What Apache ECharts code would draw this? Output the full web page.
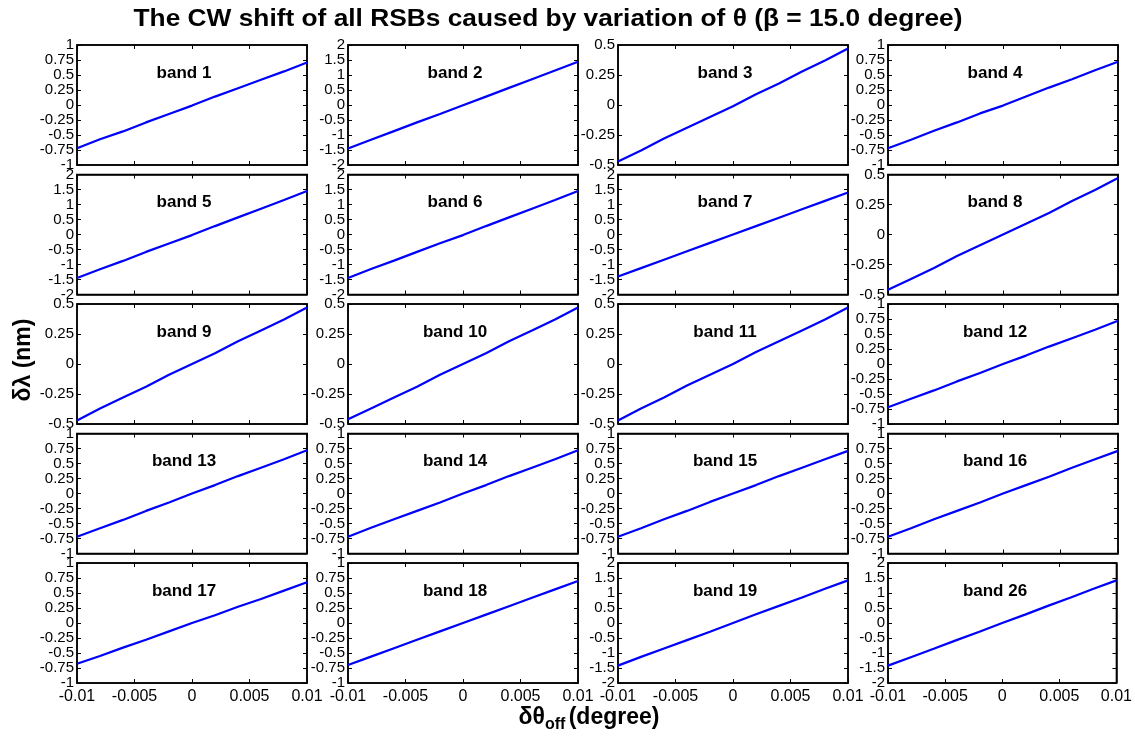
<!DOCTYPE html>
<html><head><meta charset="utf-8">
<script src="https://cdn.jsdelivr.net/npm/echarts@6/dist/echarts.min.js"></script>
<style>html,body{margin:0;padding:0;background:#fff}#c{width:1135px;height:740px}</style>
</head><body><div id="c"></div>
<script>
const xValues = [-0.01,-0.008,-0.006,-0.004,-0.002,0,0.002,0.004,0.006,0.008,0.01];
const xTicks = [-0.01,-0.005,0,0.005,0.01];
const bandNames = ['band 1','band 2','band 3','band 4','band 5','band 6','band 7','band 8','band 9','band 10','band 11','band 12','band 13','band 14','band 15','band 16','band 17','band 18','band 19','band 26'];
const yLimits = [1,2,0.5,1, 2,2,2,0.5, 0.5,0.5,0.5,1, 1,1,1,1, 1,1,2,2];
const yIntervals = [0.25,0.5,0.25,0.25, 0.5,0.5,0.5,0.25, 0.25,0.25,0.25,0.25, 0.25,0.25,0.25,0.25, 0.25,0.25,0.5,0.5];
const band1  = [-0.72,-0.57,-0.44,-0.29,-0.15,-0.01,0.14,0.28,0.42,0.56,0.71];
const band2  = [-1.45,-1.16,-0.87,-0.58,-0.30,-0.01,0.28,0.57,0.86,1.15,1.44];
const band3  = [-0.47,-0.38,-0.28,-0.19,-0.10,-0.01,0.09,0.18,0.28,0.37,0.47];
const band4  = [-0.72,-0.58,-0.43,-0.29,-0.14,-0.01,0.14,0.29,0.43,0.58,0.72];
const band5  = [-1.45,-1.16,-0.88,-0.58,-0.30,-0.02,0.28,0.57,0.86,1.15,1.45];
const band6  = [-1.45,-1.15,-0.87,-0.58,-0.29,-0.02,0.28,0.57,0.86,1.15,1.45];
const band7  = [-1.40,-1.12,-0.84,-0.56,-0.28,0.00,0.28,0.56,0.84,1.12,1.40];
const band8  = [-0.46,-0.37,-0.28,-0.18,-0.09,0.00,0.09,0.18,0.28,0.37,0.47];
const band9  = [-0.47,-0.37,-0.28,-0.19,-0.09,0.00,0.09,0.19,0.28,0.37,0.47];
const band10 = [-0.46,-0.37,-0.28,-0.19,-0.09,0.00,0.09,0.19,0.28,0.37,0.47];
const band11 = [-0.47,-0.37,-0.28,-0.18,-0.09,0.00,0.10,0.19,0.28,0.37,0.47];
const band12 = [-0.72,-0.58,-0.44,-0.29,-0.15,0.00,0.14,0.29,0.43,0.57,0.72];
const band13 = [-0.72,-0.58,-0.44,-0.29,-0.15,0.00,0.14,0.29,0.43,0.57,0.72];
const band14 = [-0.72,-0.57,-0.43,-0.29,-0.15,0.00,0.14,0.29,0.43,0.57,0.72];
const band15 = [-0.72,-0.58,-0.43,-0.29,-0.14,0.00,0.14,0.29,0.43,0.57,0.71];
const band16 = [-0.72,-0.58,-0.43,-0.29,-0.15,0.00,0.14,0.28,0.43,0.57,0.71];
const band17 = [-0.68,-0.55,-0.41,-0.28,-0.14,0.00,0.13,0.27,0.40,0.54,0.68];
const band18 = [-0.70,-0.56,-0.42,-0.28,-0.14,0.00,0.14,0.28,0.42,0.56,0.70];
const band19 = [-1.42,-1.13,-0.85,-0.57,-0.29,0.00,0.29,0.57,0.85,1.14,1.42];
const band26 = [-1.42,-1.14,-0.86,-0.57,-0.29,0.00,0.28,0.57,0.85,1.14,1.42];
const allBands = [band1,band2,band3,band4,band5,band6,band7,band8,band9,band10,band11,band12,band13,band14,band15,band16,band17,band18,band19,band26];
const titleText = 'The CW shift of all RSBs caused by variation of \u03b8 (\u03b2 = 15.0 degree)';

const colLefts = [77,348,618,888];
const rowTops = [45,174.5,304,433.5,563];
const gw = 230, gh = 120;
const font = '"Liberation Sans", Arial, sans-serif';

function measure(text, f){ const cv=document.createElement('canvas').getContext('2d'); cv.font=f; return cv.measureText(text).width; }

const grids=[], xAxes=[], yAxes=[], series=[], graphics=[];
allBands.forEach((vals,i)=>{
  const r = Math.floor(i/4), c = i%4;
  grids.push({left:colLefts[c], top:rowTops[r], width:gw, height:gh, show:true, borderColor:'#000', borderWidth:1.5, backgroundColor:'#fff'});
  const bottomRow = r===4;
  const tickStyle = {show:true, inside:true, length:4, lineStyle:{color:'#000',width:1}};
  const lineStyle = {show:true, onZero:false, lineStyle:{color:'#000',width:1.5}};
  xAxes.push({gridIndex:i, type:'value', min:-0.01, max:0.01, interval:0.005, position:'bottom',
    axisLine:lineStyle, axisTick:tickStyle, splitLine:{show:false},
    axisLabel:{show:bottomRow, color:'#000', fontSize:16, fontFamily:font, margin:6, showMinLabel:true, showMaxLabel:true,
      formatter:v=>String(Math.round(v*1000)/1000)}});
  xAxes.push({gridIndex:i, type:'value', min:-0.01, max:0.01, interval:0.005, position:'top',
    axisLine:lineStyle, axisTick:tickStyle, splitLine:{show:false}, axisLabel:{show:false}});
  const L = yLimits[i];
  yAxes.push({gridIndex:i, type:'value', min:-L, max:L, interval:yIntervals[i], position:'left',
    axisLine:lineStyle, axisTick:tickStyle, splitLine:{show:false},
    axisLabel:{color:'#000', fontSize:15, fontFamily:font, margin:3, showMinLabel:true, showMaxLabel:true, hideOverlap:false,
      formatter:v=>String(Math.round(v*100)/100)}});
  yAxes.push({gridIndex:i, type:'value', min:-L, max:L, interval:yIntervals[i], position:'right',
    axisLine:lineStyle, axisTick:tickStyle, splitLine:{show:false}, axisLabel:{show:false}});
  series.push({type:'line', xAxisIndex:2*i, yAxisIndex:2*i, data:xValues.map((x,k)=>[x,vals[k]]),
    showSymbol:false, lineStyle:{color:'#0000ff', width:2.2}, silent:true, animation:false});
  graphics.push({type:'text', x:colLefts[c]+gw/2-8, y:rowTops[r]+28,
    style:{text:bandNames[i], font:'bold 17px '+font, fill:'#000', textAlign:'center', textVerticalAlign:'middle'}});
});

const titleFont = 'bold 24px '+font;
const tw = measure(titleText, titleFont);
graphics.push({type:'text', x:548, y:19, scaleX:829/tw, style:{text:titleText, font:titleFont, fill:'#000', textAlign:'center', textVerticalAlign:'middle'}});
graphics.push({type:'text', x:24, y:360, rotation:Math.PI/2, style:{text:'\u03b4\u03bb (nm)', font:'bold 23px '+font, fill:'#000', textAlign:'center', textVerticalAlign:'middle'}});
graphics.push({type:'text', x:589, y:718, style:{rich:{a:{font:'bold 23px '+font, fill:'#000'}, s:{font:'bold 16px '+font, fill:'#000', padding:[14,0,0,0]}}, text:'{a|\u03b4\u03b8}{s|off} {a|(degree)}', textAlign:'center', textVerticalAlign:'middle'}});

const chart = echarts.init(document.getElementById('c'), null, {renderer:'canvas'});
chart.setOption({animation:false, grid:grids, xAxis:xAxes, yAxis:yAxes, series:series, graphic:graphics});
</script></body></html>
